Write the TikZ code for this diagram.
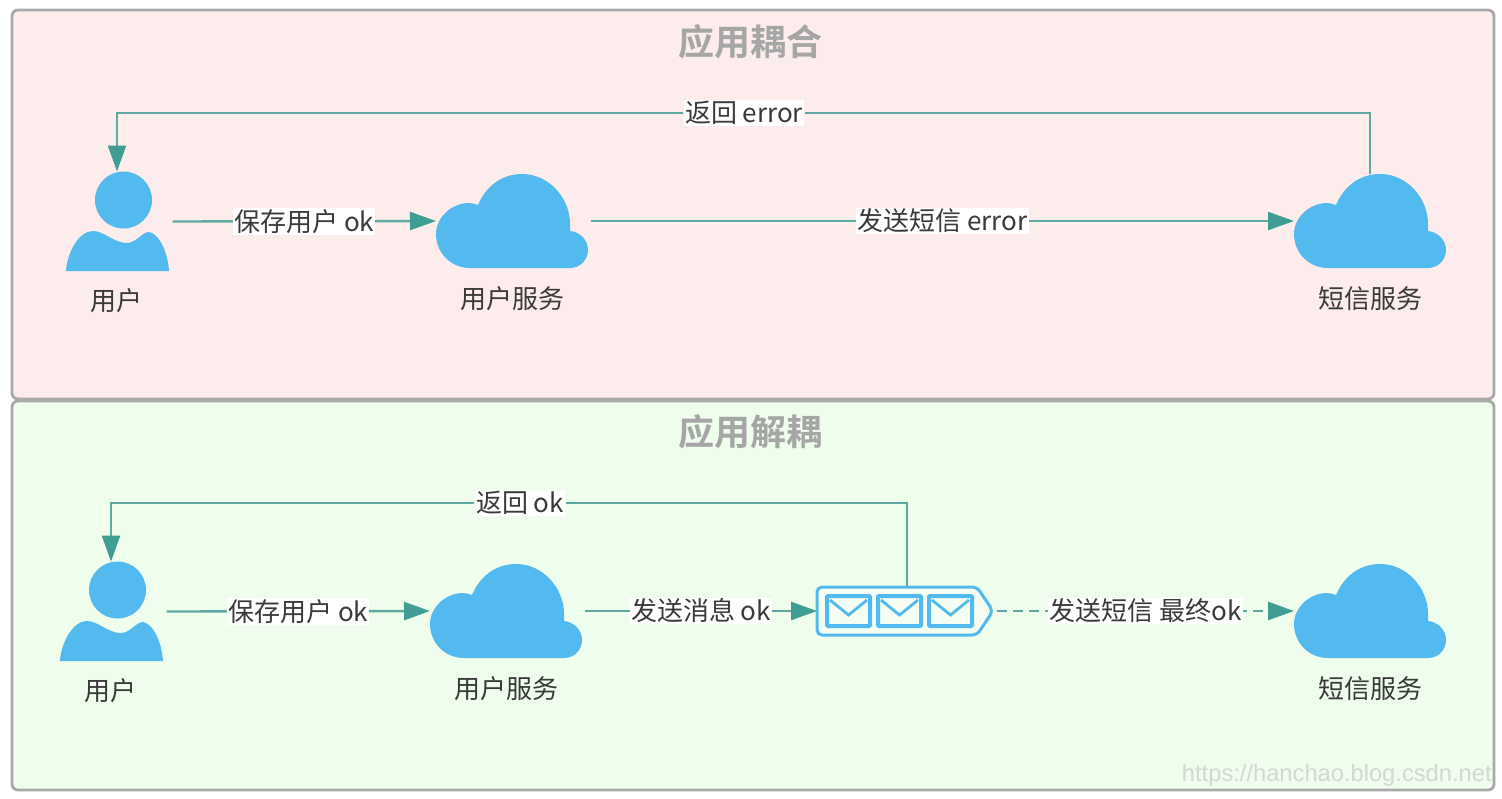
\documentclass[tikz,border=0pt]{standalone}
\usepackage{fontspec}
\setmainfont{Noto Sans CJK SC}[BoldFont={Noto Sans CJK SC Bold}]
\newfontfamily\wmfont{Liberation Sans}
\usetikzlibrary{arrows.meta}
\definecolor{iconblue}{HTML}{52BAEE}
\definecolor{linecol}{HTML}{5EAAA3}
\definecolor{headcol}{HTML}{3F9E94}
\definecolor{txtcol}{HTML}{3A3A3A}
\definecolor{titlecol}{HTML}{A6A6A6}
\definecolor{panelgray}{HTML}{A9A9A9}
\definecolor{redbg}{HTML}{FCECEC}
\definecolor{greenbg}{HTML}{EEFDEC}
\tikzset{
  x=0.5pt,y=-0.5pt,
  panelbox/.style={draw=panelgray,line width=1.4pt,rounded corners=3pt},
  paneltitle/.style={font=\fontsize{18}{20}\selectfont\bfseries,text=titlecol},
  caption/.style={font=\fontsize{13}{14}\selectfont,text=txtcol,inner sep=0pt},
  lbl/.style={font=\fontsize{13}{14}\selectfont,text=txtcol,fill=white,inner sep=0.6pt},
  conn/.style={draw=linecol,line width=1.2pt,-{Triangle[length=13pt,width=9pt,color=headcol]}},
  plain/.style={draw=linecol,line width=1.2pt},
  personbox/.style={minimum width=51.5pt,minimum height=50pt,inner sep=0pt,outer sep=0pt},
  cloudbox/.style={minimum width=76pt,minimum height=47pt,inner sep=0pt,outer sep=0pt},
  queuebox/.style={minimum width=88pt,minimum height=24pt,inner sep=0pt,outer sep=0pt},
}
\newcommand{\personicon}[2]{%
  \begin{scope}[shift={(#1,#2)}]
    \fill[iconblue] (57.5,28) ellipse [x radius=28.5,y radius=28.5];
    \fill[iconblue] (0,99) .. controls (1,82) and (12,59) .. (27,59)
      .. controls (38,59) and (48,71) .. (61,71)
      .. controls (70,71) and (76,60) .. (83,60)
      .. controls (94,62) and (102,82) .. (103,99) -- cycle;
  \end{scope}}
\newcommand{\cloudicon}[2]{%
  \begin{scope}[shift={(#1,#2)}]
    \fill[iconblue] (34,94) .. controls (15,94) and (0,79) .. (0,60)
      .. controls (0,43) and (16,29) .. (33,29)
      .. controls (36,29) and (39,30) .. (42,31)
      .. controls (50,12) and (66,0) .. (86,0)
      .. controls (113,0) and (134,24) .. (134,50)
      -- (134,57)
      .. controls (144,58) and (152,66) .. (152,76)
      .. controls (152,86) and (144,94) .. (134,94) -- cycle;
  \end{scope}}
\newcommand{\envelope}[2]{%
  \begin{scope}[shift={(#1,#2)}]
    \draw[iconblue,line width=2pt,rounded corners=0.5pt] (0,0) rectangle (43,30);
    \draw[iconblue,line width=1.4pt] (3,4) -- (21.5,19) -- (40,4);
  \end{scope}}
\newcommand{\queueicon}[2]{%
  \begin{scope}[shift={(#1,#2)}]
    \draw[iconblue,line width=1.5pt,rounded corners=2.5pt,fill=white,fill opacity=0.35]
      (0,0) -- (160,0) -- (176,24) -- (160,48) -- (0,48) -- cycle;
    \envelope{10}{9}\envelope{61}{9}\envelope{112}{9}
  \end{scope}}
\begin{document}
\begin{tikzpicture}
\path[use as bounding box,fill=white] (0,0) rectangle (1502,798);
% panels
\draw[panelbox,fill=redbg] (12,10) rectangle (1494,399);
\draw[panelbox,fill=greenbg] (12,401) rectangle (1494,790);
\node[paneltitle] (t1) at (750,42) {应用耦合};
\node[paneltitle] (t2) at (750,432) {应用解耦};
% icons, upper panel
\personicon{66}{172}
\cloudicon{436}{174}
\cloudicon{1294}{174}
\node[personbox] (u1) at (117,221.5) {};
\node[cloudbox] (a1) at (512,221) {};
\node[cloudbox] (s1) at (1370,221) {};
\node[caption] (cu1) at (116,301) {用户};
\node[caption] (ca1) at (512,299) {用户服务};
\node[caption] (cs1) at (1370,299) {短信服务};
% icons, lower panel
\personicon{60}{562}
\cloudicon{430}{564}
\queueicon{817}{587}
\cloudicon{1294}{564}
\node[personbox] (u2) at (111,611.5) {};
\node[cloudbox] (a2) at (506,611) {};
\node[queuebox] (q2) at (905,611) {};
\node[cloudbox] (s2) at (1370,611) {};
\node[caption] (cu2) at (110,691) {用户};
\node[caption] (ca2) at (506,689) {用户服务};
\node[caption] (cs2) at (1370,689) {短信服务};
% connectors, upper panel
\draw[conn] ([xshift=2pt]u1.east) -- node[lbl] (l1) {保存用户 ok} (a1.west);
\draw[conn] ([xshift=1.5pt]a1.east) -- node[lbl] (l2) {发送短信 error} (s1.west);
\node[lbl] (r1) at (744,113) {返回 error};
\draw[plain] (s1.north) |- (r1.east);
\draw[conn] (r1.west) -| (u1.north);
% connectors, lower panel
\draw[conn] ([xshift=2pt]u2.east) -- node[lbl] (l3) {保存用户 ok} (a2.west);
\draw[conn] ([xshift=1.5pt]a2.east) -- node[lbl] (l4) {发送消息 ok} (q2.west);
\draw[conn,dashed,dash pattern=on 5pt off 3pt] ([xshift=2pt]q2.east) -- node[lbl] (l5) {发送短信 最终ok} (s2.west);
\node[lbl] (r2) at (520,503) {返回 ok};
\draw[plain] ([xshift=1pt]q2.north) |- (r2.east);
\draw[conn] (r2.west) -| (u2.north);
% watermark
\node[font=\wmfont\fontsize{11.85}{14}\selectfont,text=white!84!black,anchor=east,inner sep=0pt] (wm) at (1492,775) {https://hanchao.blog.csdn.net};
\end{tikzpicture}
\end{document}
